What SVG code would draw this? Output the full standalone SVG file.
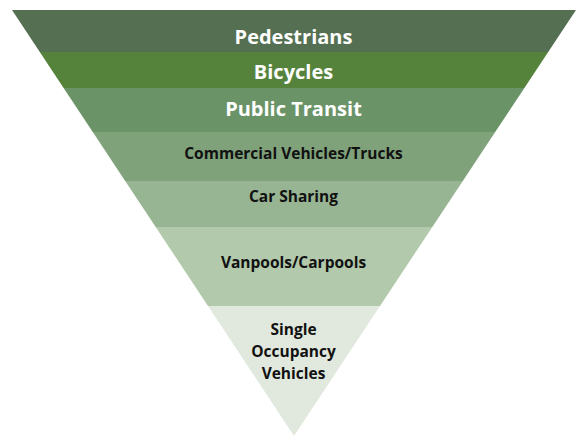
<svg xmlns="http://www.w3.org/2000/svg" width="577" height="435" viewBox="0 0 577 435">
<style>
.w{fill:#ffffff;font-family:"Open Sans","Liberation Sans",sans-serif;font-weight:bold;font-size:20px;text-anchor:middle}
.b{fill:#111111;font-family:"Open Sans","Liberation Sans",sans-serif;font-weight:bold;font-size:15.5px;text-anchor:middle}
</style>
<rect width="577" height="435" fill="#ffffff"/>
<g id="pedestrians"><polygon points="12,10 576,10 548.2,52 39.8,52" fill="#556f52"/><text class="w" x="293.5" y="44">Pedestrians</text></g>
<g id="bicycles"><polygon points="39.8,52 548.2,52 524.4,88 63.6,88" fill="#55833c"/><text class="w" x="293.5" y="79">Bicycles</text></g>
<g id="public-transit"><polygon points="63.6,88 524.4,88 495.2,132 92.8,132" fill="#6a9368"/><text class="w" x="293.5" y="116">Public Transit</text></g>
<g id="commercial"><polygon points="92.8,132 495.2,132 462.8,181 125.2,181" fill="#7fa27b"/><text class="b" x="293.5" y="159">Commercial Vehicles/Trucks</text></g>
<g id="car-sharing"><polygon points="125.2,181 462.8,181 432.3,227 155.7,227" fill="#98b593"/><text class="b" x="293.5" y="202">Car Sharing</text></g>
<g id="vanpools"><polygon points="155.7,227 432.3,227 380,306 208,306" fill="#b2c9ac"/><text class="b" x="293.5" y="268">Vanpools/Carpools</text></g>
<g id="single"><polygon points="208,306 380,306 294,436" fill="#e1e9de"/><text class="b" x="293.5" y="335">Single</text><text class="b" x="293.5" y="357">Occupancy</text><text class="b" x="293.5" y="379">Vehicles</text></g>
<g id="connectors"/>
</svg>
